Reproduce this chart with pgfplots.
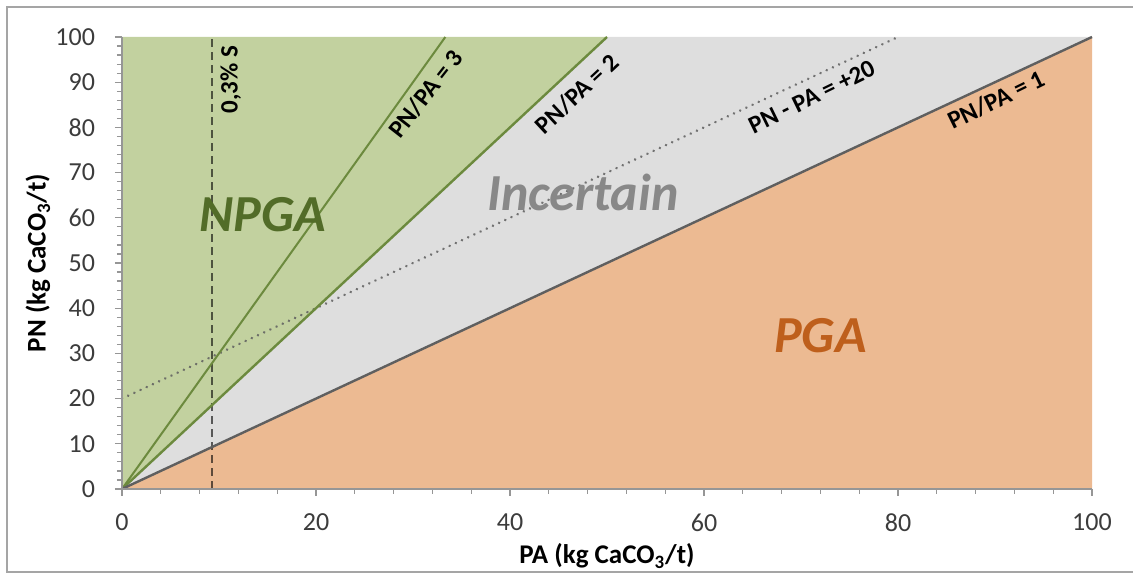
\documentclass[border=0pt]{standalone}
\usepackage{fontspec}
\setmainfont{Carlito}
\usepackage{pgfplots}
\pgfplotsset{compat=1.18}
\definecolor{npgafill}{RGB}{194,209,159}
\definecolor{incfill}{RGB}{222,222,222}
\definecolor{pgafill}{RGB}{236,186,146}
\definecolor{greenline}{RGB}{108,138,62}
\definecolor{npgatext}{RGB}{82,108,40}
\definecolor{inctext}{RGB}{136,136,136}
\definecolor{pgatext}{RGB}{190,95,28}
\definecolor{axgray}{RGB}{150,150,150}
\definecolor{ticktext}{RGB}{60,60,60}
\definecolor{framegray}{RGB}{165,165,165}
\definecolor{darkline}{RGB}{95,95,95}
\begin{document}
\begin{tikzpicture}
\begin{axis}[name=ax, at={(0,0)}, anchor=south west,
  scale only axis, width=485pt, height=226pt,
  xmin=0, xmax=100, ymin=0, ymax=100,
  axis x line*=bottom, axis y line*=left,
  axis line style={draw=axgray, line width=0.7pt},
  xtick={0,20,...,100}, ytick={0,10,...,100},
  minor x tick num=4, minor y tick num=4,
  tick align=outside, major tick length=3.5pt, minor tick length=2.5pt,
  every tick/.style={draw=axgray, line width=0.6pt},
  ticklabel style={font=\fontsize{13}{15}\selectfont, text=ticktext},
  /pgf/number format/assume math mode=true,
  xticklabel style={yshift=-5.5pt},
  yticklabel style={xshift=-6.5pt},
  clip=false, axis on top]
% regions
\addplot[draw=none, fill=npgafill] coordinates {(0,0) (0,100) (50,100)} -- cycle;
\addplot[draw=none, fill=incfill] coordinates {(0,0) (50,100) (100,100)} -- cycle;
\addplot[draw=none, fill=pgafill] coordinates {(0,0) (100,100) (100,0)} -- cycle;
% 0,3% S
\addplot[black, opacity=0.6, line width=1.1pt, dash pattern=on 4pt off 2.5pt] coordinates {(9.3,0) (9.3,100)};
% PN - PA = +20
\addplot[darkline, opacity=0.85, line width=1.4pt, line cap=round, dash pattern=on 0.01pt off 3.4pt] coordinates {(0,20) (80,100)};
% ratio lines
\addplot[greenline, line width=1pt] coordinates {(0,0) (33.333,100)};
\addplot[greenline, line width=1.2pt] coordinates {(0,0) (50,100)};
\addplot[darkline, line width=1.2pt] coordinates {(0,0) (100,100)};
% region names
\node[font=\fontsize{26}{30}\selectfont\bfseries\itshape, text=npgatext] at (axis cs:14.5,60.6) {NPGA};
\node[font=\fontsize{26}{30}\selectfont\bfseries\itshape, text=inctext] at (axis cs:47.5,65.7) {Incertain};
\node[font=\fontsize{26}{30}\selectfont\bfseries\itshape, text=pgatext] at (axis cs:72,34) {PGA};
% line labels
\node[font=\fontsize{12.5}{14}\selectfont\bfseries, rotate=90] at (axis cs:11.2,90.5) {0,3\% S};
\node[font=\fontsize{12.5}{14}\selectfont\bfseries, rotate=52] at (axis cs:31.3,87.4) {PN/PA = 3};
\node[font=\fontsize{12.5}{14}\selectfont\bfseries, rotate=43] at (axis cs:46.9,87.4) {PN/PA = 2};
\node[font=\fontsize{12.5}{14}\selectfont\bfseries, rotate=26] at (axis cs:71.1,86.7) {PN - PA = +20};
\node[font=\fontsize{12.5}{14}\selectfont\bfseries, rotate=26] at (axis cs:90.1,86.1) {PN/PA = 1};
% axis labels
\node[font=\fontsize{13.5}{16}\selectfont\bfseries] at ([yshift=-33.5pt]rel axis cs:0.5,0) {PA (kg CaCO\textsubscript{3}/t)};
\node[font=\fontsize{13.5}{16}\selectfont\bfseries, rotate=90] at ([xshift=-42pt]rel axis cs:0,0.5) {PN (kg CaCO\textsubscript{3}/t)};
\end{axis}
\useasboundingbox ([shift={(-61pt,-42.5pt)}]ax.south west) rectangle ([shift={(20.5pt,18.5pt)}]ax.north east);
\draw[framegray, line width=1pt] ([shift={(40pt,-41.5pt)}]ax.south east) -- ([shift={(-57.5pt,-41.5pt)}]ax.south west) -- ([shift={(-57.5pt,15pt)}]ax.north west) -- ([shift={(40pt,15pt)}]ax.north east);
\end{tikzpicture}
\end{document}
